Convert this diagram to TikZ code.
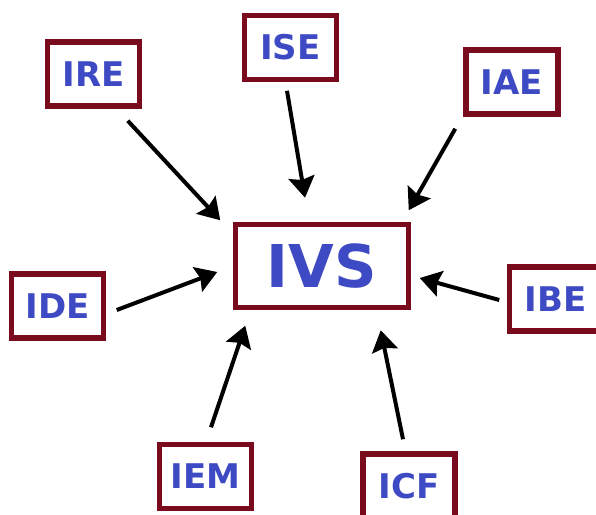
\documentclass[tikz,border=0pt]{standalone}
\usepackage{fontspec}
\setmainfont{DejaVu Sans}
\usetikzlibrary{arrows.meta, positioning}

\definecolor{boxred}{RGB}{122,10,30}
\definecolor{txtblue}{RGB}{62,74,196}

\tikzset{
  unit/.style={draw=boxred, line width=5.5pt, fill=white, rectangle, minimum width=92pt, minimum height=64pt,
    text=txtblue, font=\bfseries\fontsize{34}{40}\selectfont, inner sep=0pt},
  hub/.style={unit, minimum width=173pt, minimum height=83pt, font=\bfseries\fontsize{59}{64}\selectfont},
  arr/.style={line width=4pt, -{Stealth[length=21pt, width=26pt, inset=3pt]}}
}

\begin{document}
\begin{tikzpicture}[x=1pt, y=-1pt]
    \useasboundingbox (0,0) rectangle (596,514);
    % Central box
    \node[hub] (ivs) at (322, 266) {IVS};

    % Surrounding boxes
    \node[unit] (ire) at (93.5, 74) {IRE};
    \node[unit] (ise) at (290.5, 47.5) {ISE};
    \node[unit] (iae) at (512, 82) {IAE};
    \node[unit] (ide) at (57.5, 306) {IDE};
    \node[unit] (ibe) at (555.5, 299) {IBE};
    \node[unit] (iem) at (205.5, 476.5) {IEM};
    \node[unit] (icf) at (409, 486) {ICF};

    % Arrows into IVS
    \draw[arr] ([shift={(-14.5,12)}]ire.south east) -- ([shift={(-12.5,-1.5)}]ivs.north west);
    \draw[arr] ([shift={(-3.5,8.5)}]ise.south) -- ([shift={(-17,-24)}]ivs.north);
    \draw[arr] ([shift={(-8,12)}]iae.south west) -- ([shift={(-2.5,-11.5)}]ivs.north east);
    \draw[arr] ([shift={(10.5,4)}]ide.east) -- ([shift={(-15.5,6)}]ivs.west);
    \draw[arr] ([shift={(-7.5,1)}]ibe.west) -- ([shift={(8.5,12)}]ivs.east);
    \draw[arr] ([shift={(5.5,-14.5)}]iem.north) -- ([shift={(12.5,15.5)}]ivs.south west);
    \draw[arr] ([shift={(-6,-12)}]icf.north) -- ([shift={(-30.5,20)}]ivs.south east);
\end{tikzpicture}
\end{document}
